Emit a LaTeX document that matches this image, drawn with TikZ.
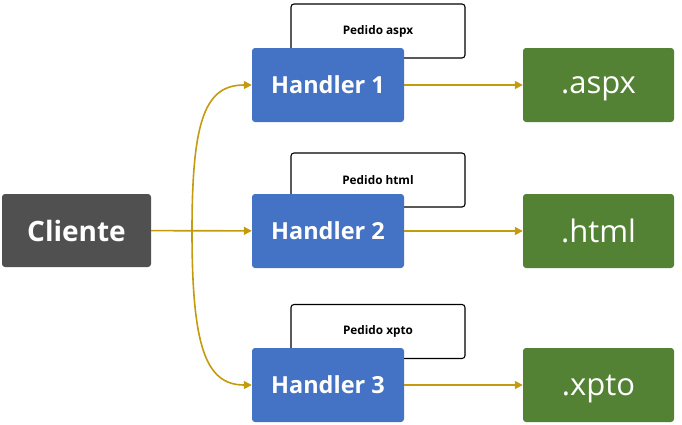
\documentclass[tikz,border=0pt]{standalone}
\usepackage{fontspec}
\setmainfont{Open Sans}
\usetikzlibrary{arrows.meta}
\definecolor{cgrey}{HTML}{505050}
\definecolor{cblue}{HTML}{4472C4}
\definecolor{cgreen}{HTML}{548235}
\definecolor{cgold}{HTML}{C49A0F}
\tikzset{
  clientbox/.style={fill=cgrey, rounded corners=3pt, minimum width=149pt, minimum height=73pt, text=white, font=\bfseries\fontsize{28}{32}\selectfont},
  handlerbox/.style={fill=cblue, rounded corners=3pt, minimum width=152pt, minimum height=74pt, text=white, font=\bfseries\fontsize{23.5}{27}\selectfont},
  filebox/.style={fill=cgreen, rounded corners=3pt, minimum width=151pt, minimum height=74pt, text=white, text depth=0pt, font=\fontsize{31}{35}\selectfont},
  reqbox/.style={draw=black, line width=1.1pt, fill=white, rounded corners=3pt, minimum width=174pt, minimum height=54pt, font=\bfseries\fontsize{11.8}{14}\selectfont},
  conn/.style={draw=cgold, line width=1.6pt, -{Triangle[length=8pt,width=8pt]}}
}
\begin{document}
\begin{tikzpicture}[x=1pt,y=-1pt]
\useasboundingbox (0,0) rectangle (682,424);
% request boxes
\node[reqbox] (r1) at (378,31) {Pedido aspx};
\node[reqbox] (r2) at (378,180) {Pedido html};
\node[reqbox] (r3) at (378,331.5) {Pedido xpto};
% main boxes
\node[clientbox] (c) at (76.5,230.5) {Cliente};
\node[handlerbox] (h1) at (328,85) {Handler 1};
\node[handlerbox] (h2) at (328,231) {Handler 2};
\node[handlerbox] (h3) at (328,385) {Handler 3};
\node[filebox] (f1) at (598.5,85) {.aspx};
\node[filebox] (f2) at (598.5,231) {.html};
\node[filebox] (f3) at (598.5,385) {.xpto};
% connectors
\coordinate (split) at (192,231);
\draw[conn] (c) -- (h2);
\draw[conn] (split) .. controls (192,120) and (205,85) .. (h1.west);
\draw[conn] (split) .. controls (192,345) and (205,385) .. (h3.west);
\draw[conn] (h1) -- (f1);
\draw[conn] (h2) -- (f2);
\draw[conn] (h3) -- (f3);
\end{tikzpicture}
\end{document}
